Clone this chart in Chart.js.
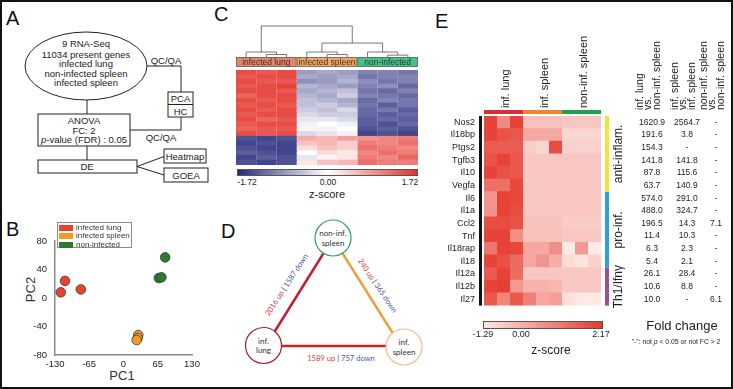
<!DOCTYPE html>
<html>
<head>
<meta charset="utf-8">
<script src="https://cdn.jsdelivr.net/npm/chart.js@4.4.1/dist/chart.umd.min.js"></script>
<style>
  body { margin: 0; background: #fff; font-family: "Liberation Sans", Arial, sans-serif; color: #222; }
  #fig { position: relative; width: 733px; height: 389px; overflow: hidden; background: #fff; }
  #frame { position: absolute; left: 0; top: 0; width: 733px; height: 389px; box-sizing: border-box; border: 2px solid #111; pointer-events: none; }
  .abs { position: absolute; white-space: nowrap; }
  .panel { position: absolute; font-size: 20px; line-height: 20px; color: #111; }
  canvas { position: absolute; }
</style>
</head>
<body>
<div id="fig">
  <svg class="abs" style="left:0;top:0" width="733" height="389" font-family="Liberation Sans, Arial, sans-serif">
    <!-- A: workflow -->
    <g fill="none" stroke="#222" stroke-width="1">
      <ellipse cx="86" cy="66" rx="61" ry="34"/>
      <path d="M147,66 H181 V92"/>
      <rect x="168" y="92" width="25" height="25"/>
      <path d="M168,104.5 H193"/>
      <path d="M181,117 V130 H130"/>
      <path d="M87,100 V114"/>
      <rect x="38" y="114" width="92" height="32"/>
      <path d="M87,146 V160"/>
      <rect x="38" y="160" width="99" height="13"/>
      <path d="M137,166.5 L164,156.5 M137,166.5 L164,175"/>
      <rect x="164" y="149" width="42" height="14"/>
      <rect x="164" y="168" width="44" height="14"/>
    </g>
    <g font-size="9.5" fill="#222" text-anchor="middle">
      <text x="86" y="47">9 RNA-Seq</text>
      <text x="86" y="57.5">11034 present genes</text>
      <text x="86" y="67">infected lung</text>
      <text x="86" y="76.5">non-infected spleen</text>
      <text x="86" y="86">infected spleen</text>
      <text x="166" y="64">QC/QA</text>
      <text x="161" y="140.5">QC/QA</text>
      <text x="180.5" y="102">PCA</text>
      <text x="180.5" y="114.5">HC</text>
      <text x="84" y="123.5">ANOVA</text>
      <text x="84" y="133.5">FC: 2</text>
      <text x="84" y="143"><tspan font-style="italic">p</tspan>-value (FDR) : 0.05</text>
      <text x="87" y="170">DE</text>
      <text x="185" y="159.5">Heatmap</text>
      <text x="186" y="178.5">GOEA</text>
    </g>
    <!-- D: comparison triangle -->
    <g stroke-width="2.5" stroke-linecap="round">
      <line x1="275" y1="331" x2="323" y2="254" stroke="#c41e33"/>
      <line x1="343" y1="254" x2="392" y2="332" stroke="#eda03c"/>
      <line x1="281" y1="346" x2="386" y2="346" stroke="#c8202f"/>
    </g>
    <g fill="#fff" stroke-width="1.2">
      <circle cx="333" cy="238" r="18" stroke="#2f9e6c"/>
      <circle cx="263.5" cy="345.5" r="18" stroke="#9b2230"/>
      <circle cx="404" cy="347" r="18" stroke="#f0bd86"/>
    </g>
    <g font-family="Lato, 'Open Sans', sans-serif" font-size="8" fill="#333" text-anchor="middle">
      <text x="333" y="236">non-inf.</text>
      <text x="333" y="246">spleen</text>
      <text x="263.5" y="344">inf.</text>
      <text x="263.5" y="353">lung</text>
      <text x="404" y="345">inf.</text>
      <text x="404" y="355">spleen</text>
    </g>
    <g font-family="Lato, 'Open Sans', sans-serif" font-size="7.6" text-anchor="middle" dominant-baseline="middle">
      <text transform="translate(287,285) rotate(-57)"><tspan fill="#d2454a">2016 up</tspan><tspan fill="#333"> | </tspan><tspan fill="#4c58a6">1587 down</tspan></text>
      <text transform="translate(377,286) rotate(56)"><tspan fill="#d2454a">240 up</tspan><tspan fill="#333"> | </tspan><tspan fill="#4c58a6">365 down</tspan></text>
      <text transform="translate(341,359)"><tspan fill="#d2454a">1589 up</tspan><tspan fill="#333"> | </tspan><tspan fill="#4c58a6">757 down</tspan></text>
    </g>
  </svg>

  <div class="panel" style="left:6px;top:8px">A</div>
  <div class="panel" style="left:6px;top:219px">B</div>
  <div class="panel" style="left:214px;top:4px">C</div>
  <div class="panel" style="left:221px;top:221px">D</div>
  <div class="panel" style="left:435px;top:11px">E</div>

  <!-- C -->
  <canvas id="heatC" width="195" height="145" style="left:230px;top:20px"></canvas>
  <div class="abs" style="left:237px;top:169px;width:181px;height:7px;box-sizing:border-box;border:1px solid #555;background:linear-gradient(to right,#262a7c,#ffffff,#e2302a)"></div>
  <div class="abs" style="left:227px;top:177px;width:40px;text-align:center;font-size:8.5px">-1.72</div>
  <div class="abs" style="left:308px;top:177px;width:40px;text-align:center;font-size:8.5px">0.00</div>
  <div class="abs" style="left:390px;top:177px;width:40px;text-align:center;font-size:8.5px">1.72</div>
  <div class="abs" style="left:297px;top:188px;width:60px;text-align:center;font-size:11px">z-score</div>

  <!-- E -->
  <canvas id="heatE" width="303" height="290" style="left:430px;top:30px"></canvas>
  <div class="abs" style="left:483px;top:321px;width:120px;height:8px;box-sizing:border-box;border:1px solid #555;background:linear-gradient(to right,#fde8e4,#e63a2d)"></div>
  <div class="abs" style="left:465px;top:329px;width:36px;text-align:center;font-size:9px">-1.29</div>
  <div class="abs" style="left:503px;top:329px;width:36px;text-align:center;font-size:9px">0.00</div>
  <div class="abs" style="left:583px;top:329px;width:36px;text-align:center;font-size:9px">2.17</div>
  <div class="abs" style="left:516px;top:343px;width:70px;text-align:center;font-size:12px">z-score</div>
  <div class="abs" style="left:627px;top:318px;width:110px;text-align:center;font-size:13px">Fold change</div>
  <div class="abs" style="left:620px;top:338px;width:112px;text-align:center;font-size:6.8px">"-": not <i>p</i> &lt; 0.05 or not FC &gt; 2</div>

  <!-- B -->
  <div class="abs" style="left:8px;top:282px;width:44px;text-align:center;font-size:13px;color:#333;transform:rotate(-90deg)">PC2</div>
  <div class="abs" style="left:100px;top:368px;width:44px;text-align:center;font-size:13px;color:#333">PC1</div>
  <canvas id="pca" width="215" height="170" style="left:0;top:200px;z-index:3"></canvas>
  <div id="legB" class="abs" style="left:57px;top:222px;width:75px;height:26px;box-sizing:border-box;border:1px solid #8a8a8a;z-index:4"></div>

  <div id="frame"></div>
</div>

<script>
Chart.defaults.font.family = '"Liberation Sans", Arial, sans-serif';
Chart.defaults.color = '#222';

// ---- B: PCA ----
const pcaGroups = ['infected lung', 'infected spleen', 'non-infected'];
const pcaColors = ['#e8432d', '#f39a2b', '#2b7b33'];
const pc1Lung = [-119, -111, -81];
const pc2Lung = [8, 24, 12];
const pc1Spleen = [28, 27, 25];
const pc2Spleen = [-52, -56, -59];
const pc1NonInf = [79, 67, 72];
const pc2NonInf = [57, 28, 29];
const pc1Range = [-130, 130], pc1Step = 65;
const pc2Range = [-80, 80], pc2Step = 40;

// ---- C: DE genes heatmap (z-score, 3 lung | 3 spleen | 3 non-infected) ----
const cGroups = ['infected lung', 'infected spleen', 'non-infected'];
const cSamples = ['L1', 'L2', 'L3', 'S1', 'S2', 'S3', 'N1', 'N2', 'N3'];
const cRows = ['r1','r2','r3','r4','r5','r6','r7','r8','r9','r10','r11','r12','r13','r14','r15','r16','r17','r18','r19','r20'];
const cZ = [
  [1.5, 1.4, 1.5, -0.8, -0.7, -0.8, -1.0, -1.0, -1.1],
  [1.4, 1.5, 1.5, -0.7, -0.8, -0.7, -1.1, -1.0, -1.0],
  [1.5, 1.4, 1.4, -0.9, -0.8, -0.6, -0.9, -1.1, -1.0],
  [1.4, 1.5, 1.6, -0.6, -0.7, -0.8, -1.0, -0.9, -1.2],
  [1.5, 1.5, 1.4, -0.7, -0.6, -0.5, -1.1, -1.2, -1.0],
  [1.3, 1.5, 1.5, -0.6, -0.7, -0.4, -1.0, -1.1, -1.2],
  [1.5, 1.4, 1.5, -0.5, -0.6, -0.7, -1.2, -1.0, -1.1],
  [1.4, 1.5, 1.4, -0.5, -0.4, -0.6, -1.1, -1.3, -1.1],
  [1.5, 1.4, 1.5, -0.4, -0.5, -0.3, -1.2, -1.1, -1.3],
  [1.4, 1.5, 1.5, -0.3, -0.4, -0.4, -1.2, -1.3, -1.2],
  [1.5, 1.3, 1.4, -0.2, -0.2, -0.3, -1.3, -1.2, -1.3],
  [1.4, 1.5, 1.5, -0.1, 0.0, -0.1, -1.3, -1.4, -1.2],
  [1.3, 1.4, 1.4, 0.1, -0.1, 0.0, -1.4, -1.3, -1.4],
  [1.5, 1.4, 1.5, -0.3, -0.2, -0.1, -1.5, -1.4, -1.5],
  [-1.4, -1.5, -1.4, 0.7, 0.6, 0.8, 0.9, 1.0, 1.1],
  [-1.5, -1.4, -1.5, 0.5, 0.6, 0.4, 1.1, 1.0, 1.2],
  [-1.4, -1.5, -1.5, 0.3, 0.5, 0.4, 1.2, 1.1, 1.0],
  [-1.3, -1.4, -1.5, 0.0, 0.3, 0.2, 1.0, 1.2, 1.1],
  [-1.5, -1.3, -1.4, -0.2, 0.1, 0.2, 1.1, 1.0, 1.3],
  [-1.4, -1.5, -1.4, 0.2, 0.5, 0.6, 1.2, 1.1, 1.1]
];
// sample clustering: [childA, childB, height]; leaves 0-8, merged nodes numbered from 9
const cMerges = [[1, 2, 0.08], [0, 9, 0.16], [4, 5, 0.08], [3, 11, 0.16], [7, 8, 0.06], [6, 13, 0.16], [12, 14, 0.45], [10, 15, 1.0]];

// ---- E: cytokine heatmap ----
const genes = ['Nos2', 'Il18bp', 'Ptgs2', 'Tgfb3', 'Il10', 'Vegfa', 'Il6', 'Il1a', 'Ccl2', 'Tnf', 'Il18rap', 'Il18', 'Il12a', 'Il12b', 'Il27'];
const eGroups = ['inf. lung', 'inf. spleen', 'non-inf. spleen'];
const eZ = [
  [2.0, 0.6, 2.0, -0.5, -0.5, -0.5, -0.6, -0.6, -0.6],
  [2.0, 1.7, 1.6, 0.0, 0.0, 0.0, -0.9, -0.9, -0.9],
  [1.5, 1.5, 1.5, -0.7, -0.9, 1.8, -0.8, -0.8, -0.8],
  [1.7, 2.0, 1.6, -0.6, -0.6, -0.6, -0.6, -0.6, -0.6],
  [2.0, 1.7, 1.6, -0.6, -0.6, -0.6, -0.6, -0.6, -0.6],
  [1.1, 1.1, 1.9, -0.6, -0.6, -0.6, -0.6, -0.6, -0.6],
  [0.4, 2.0, 1.9, -0.6, -0.6, -0.6, -0.6, -0.6, -0.6],
  [0.4, 2.0, 1.8, -0.6, -0.6, -0.6, -0.6, -0.6, -0.6],
  [1.8, 1.8, 1.7, -0.5, -0.5, -0.5, -0.7, -0.7, -0.7],
  [2.0, 2.0, 0.5, -0.5, -0.5, -0.5, -0.6, -0.6, -0.6],
  [1.0, 2.0, 1.9, 0.0, 0.0, 0.5, -1.29, 0.3, -1.29],
  [2.0, 1.7, 1.2, 0.0, 0.4, -0.1, -1.0, -1.2, -0.8],
  [1.5, 2.0, 1.2, -0.6, -0.6, -0.6, -0.6, -0.6, -0.6],
  [2.0, 2.1, 0.3, -0.2, -0.2, -0.3, -0.6, -0.6, -0.6],
  [1.6, 0.7, 1.6, 0.8, 0.0, 0.2, -1.1, -1.29, -1.29]
];
const geneSets = [
  { label: 'anti-inflam.', from: 0, to: 5 },
  { label: 'pro-inf.', from: 6, to: 11 },
  { label: 'Th1/Ifnγ', from: 12, to: 14 }
];
const fcHeaders = [
  ['inf. lung', 'vs.', 'non-inf. spleen'],
  ['inf. spleen', 'vs.', 'inf. spleen'],
  ['non-inf. spleen', 'vs.', 'non-inf. spleen']
];
const fcLungVsNonInf = [1620.9, 191.6, 154.3, 141.8, 87.8, 63.7, 574.0, 488.0, 196.5, 11.4, 6.3, 5.4, 26.1, 10.6, 10.0];
const fcSpleenVsSpleen = [2564.7, 3.8, null, 141.8, 115.6, 140.9, 291.0, 324.7, 14.3, 10.3, 2.3, 2.1, 28.4, 8.8, null];
const fcNonInf = [null, null, null, null, null, null, null, null, 7.1, null, null, null, null, null, 6.1];

// ---------- helpers ----------
function mix(a, b, t) {
  return 'rgb(' + a.map((v, i) => Math.round(v + (b[i] - v) * t)).join(',') + ')';
}
const NAVY = [38, 42, 124], WHITE = [255, 255, 255], RED = [228, 50, 42];
function colC(z) {
  const t = Math.max(-1, Math.min(1, z / 1.72));
  return t < 0 ? mix(WHITE, NAVY, -t) : mix(WHITE, RED, t);
}
const PALE = [253, 234, 230], RED_E = [230, 58, 45];
function colE(z) {
  const t = Math.max(0, Math.min(1, (z + 1.29) / (2.17 + 1.29)));
  return mix(PALE, RED_E, t);
}
function heatSets(cols, rows, z, colorFn, pct) {
  return cols.map((c, ci) => ({
    label: c,
    data: rows.map(() => [ci, ci + 1]),
    backgroundColor: z.map(r => colorFn(r[ci])),
    borderWidth: 0,
    barPercentage: pct,
    categoryPercentage: 1,
    grouped: false
  }));
}
const quiet = { legend: { display: false }, tooltip: { enabled: false } };

// ---------- B ----------
const legB = document.getElementById('legB');
pcaGroups.forEach((g, i) => {
  const top = 2 + i * 8.3;
  legB.insertAdjacentHTML('beforeend',
    `<div class="abs" style="left:1px;top:${top}px;width:14px;height:6px;background:${pcaColors[i]}"></div>` +
    `<div class="abs" style="left:18px;top:${top - 2}px;font-size:8px;line-height:10px;color:#333">${g}</div>`);
});

const toPts = (xs, ys) => xs.map((x, i) => ({ x, y: ys[i] }));
new Chart(document.getElementById('pca'), {
  type: 'scatter',
  data: {
    datasets: [
      { label: pcaGroups[0], data: toPts(pc1Lung, pc2Lung) },
      { label: pcaGroups[1], data: toPts(pc1Spleen, pc2Spleen) },
      { label: pcaGroups[2], data: toPts(pc1NonInf, pc2NonInf) }
    ].map((d, i) => Object.assign(d, {
      backgroundColor: pcaColors[i], borderColor: '#3a3a3a', borderWidth: 0.8, pointRadius: 4.8
    }))
  },
  options: {
    responsive: false, animation: false, events: [],
    layout: { padding: { left: 0, top: 41, right: 23, bottom: 0 } },
    plugins: quiet,
    scales: {
      x: {
        type: 'linear', min: pc1Range[0], max: pc1Range[1],
        afterFit: s => { s.height = 15; },
        grid: { display: false, drawTicks: false },
        border: { display: true, color: '#8a8a8a', width: 1.5 },
        ticks: { stepSize: pc1Step, padding: 4, font: { size: 9.5 }, maxRotation: 0, autoSkip: false, callback: v => String(v) }
      },
      y: {
        type: 'linear', min: pc2Range[0], max: pc2Range[1],
        afterFit: s => { s.width = 55; },
        grid: { display: false, drawTicks: false },
        border: { display: true, color: '#8a8a8a', width: 1.5 },
        ticks: { stepSize: pc2Step, padding: 8, font: { size: 9.5 } }
      }
    }
  }
});

// ---------- C ----------
const cHeaderColors = ['#e9836d', '#f3a862', '#43c38b'];
const dendroPlugin = {
  id: 'dendro',
  afterDraw(chart) {
    const { ctx, chartArea: a, scales: { x } } = chart;
    ctx.save();
    // group header
    cGroups.forEach((g, i) => {
      const x0 = x.getPixelForValue(i * 3), x1 = x.getPixelForValue(i * 3 + 3);
      ctx.fillStyle = cHeaderColors[i];
      ctx.fillRect(x0, a.top - 13, x1 - x0, 10);
      ctx.strokeStyle = '#666'; ctx.lineWidth = 0.8;
      ctx.strokeRect(x0 + 0.5, a.top - 12.5, x1 - x0 - 1, 9);
      ctx.fillStyle = '#333'; ctx.font = '8.5px "Liberation Sans", Arial, sans-serif';
      ctx.textAlign = 'center'; ctx.textBaseline = 'middle';
      ctx.fillText(g, (x0 + x1) / 2, a.top - 7.5);
    });
    // dendrogram
    const base = a.top - 13, span = 31;
    const nx = cSamples.map((s, i) => x.getPixelForValue(i + 0.5));
    const nh = cSamples.map(() => 0);
    ctx.strokeStyle = '#555'; ctx.lineWidth = 0.8;
    cMerges.forEach(([p, q, h]) => {
      const yh = base - h * span;
      ctx.beginPath();
      ctx.moveTo(nx[p], base - nh[p] * span); ctx.lineTo(nx[p], yh);
      ctx.lineTo(nx[q], yh); ctx.lineTo(nx[q], base - nh[q] * span);
      ctx.stroke();
      nx.push((nx[p] + nx[q]) / 2); nh.push(h);
    });
    ctx.restore();
  }
};
new Chart(document.getElementById('heatC'), {
  type: 'bar',
  data: { labels: cRows, datasets: heatSets(cSamples, cRows, cZ, colC, 1.25) },
  options: {
    indexAxis: 'y', responsive: false, animation: false, events: [],
    layout: { padding: { left: 6, right: 7, top: 50, bottom: 0 } },
    plugins: quiet,
    scales: {
      x: { type: 'linear', min: 0, max: 9, display: false },
      y: { display: false }
    }
  },
  plugins: [dendroPlugin]
});

// ---------- E ----------
const eStripColors = ['#d42e36', '#f0852e', '#22a052'];
const setColors = ['#f3e534', '#2f9fd8', '#9b4f95'];
const fcCols = [fcLungVsNonInf, fcSpleenVsSpleen, fcNonInf];
const eDecor = {
  id: 'eDecor',
  afterDraw(chart) {
    const { ctx, chartArea: a, scales: { x, y } } = chart;
    const F = s => s + 'px "Liberation Sans", Arial, sans-serif';
    ctx.save();
    ctx.fillStyle = '#111';
    ctx.fillRect(a.left - 5, a.top, 3, a.bottom - a.top);
    // column groups
    eGroups.forEach((g, i) => {
      const x0 = x.getPixelForValue(i * 3), x1 = x.getPixelForValue(i * 3 + 3);
      ctx.fillStyle = eStripColors[i];
      ctx.fillRect(x0, a.top - 6, x1 - x0, 4);
      ctx.save();
      ctx.translate((x0 + x1) / 2 + 2, a.top - 8);
      ctx.rotate(-Math.PI / 2);
      ctx.fillStyle = '#222'; ctx.font = F(11);
      ctx.textAlign = 'left'; ctx.textBaseline = 'middle';
      ctx.fillText(g, 0, 0);
      ctx.restore();
    });
    // gene sets
    const half = (y.getPixelForValue(1) - y.getPixelForValue(0)) / 2;
    geneSets.forEach((s, i) => {
      const y0 = y.getPixelForValue(s.from) - half, y1 = y.getPixelForValue(s.to) + half;
      ctx.fillStyle = setColors[i];
      ctx.fillRect(a.right + 4, y0, 4, y1 - y0);
      ctx.save();
      ctx.translate(a.right + 18, (y0 + y1) / 2);
      ctx.rotate(-Math.PI / 2);
      ctx.fillStyle = '#222'; ctx.font = F(12);
      ctx.textAlign = 'center'; ctx.textBaseline = 'middle';
      ctx.fillText(s.label, 0, 0);
      ctx.restore();
    });
    // fold change table
    const colX = [a.right + 51, a.right + 86, a.right + 115];
    const lineOff = [-12, -4, 5];
    fcCols.forEach((vals, c) => {
      fcHeaders[c].forEach((t, k) => {
        ctx.save();
        ctx.translate(colX[c] + lineOff[k], a.top - 6);
        ctx.rotate(-Math.PI / 2);
        ctx.fillStyle = '#222'; ctx.font = F(10.5);
        ctx.textAlign = 'left'; ctx.textBaseline = 'middle';
        ctx.fillText(t, 0, 0);
        ctx.restore();
      });
      ctx.fillStyle = '#222'; ctx.font = F(8.5);
      ctx.textAlign = 'center'; ctx.textBaseline = 'middle';
      vals.forEach((v, r) => {
        ctx.fillText(v == null ? '-' : v.toFixed(1), colX[c], y.getPixelForValue(r));
      });
    });
    ctx.restore();
  }
};
new Chart(document.getElementById('heatE'), {
  type: 'bar',
  data: { labels: genes, datasets: heatSets(['l1', 'l2', 'l3', 's1', 's2', 's3', 'n1', 'n2', 'n3'], genes, eZ, colE, 1.08) },
  options: {
    indexAxis: 'y', responsive: false, animation: false, events: [],
    layout: { padding: { left: 0, right: 132, top: 86, bottom: 6 } },
    plugins: quiet,
    scales: {
      x: { type: 'linear', min: 0, max: 9, display: false },
      y: {
        afterFit: s => { s.width = 54; },
        grid: { display: false, drawTicks: false },
        border: { display: false },
        ticks: { padding: 9, autoSkip: false, font: { size: 9 }, color: '#222' }
      }
    }
  },
  plugins: [eDecor]
});
</script>
</body>
</html>
